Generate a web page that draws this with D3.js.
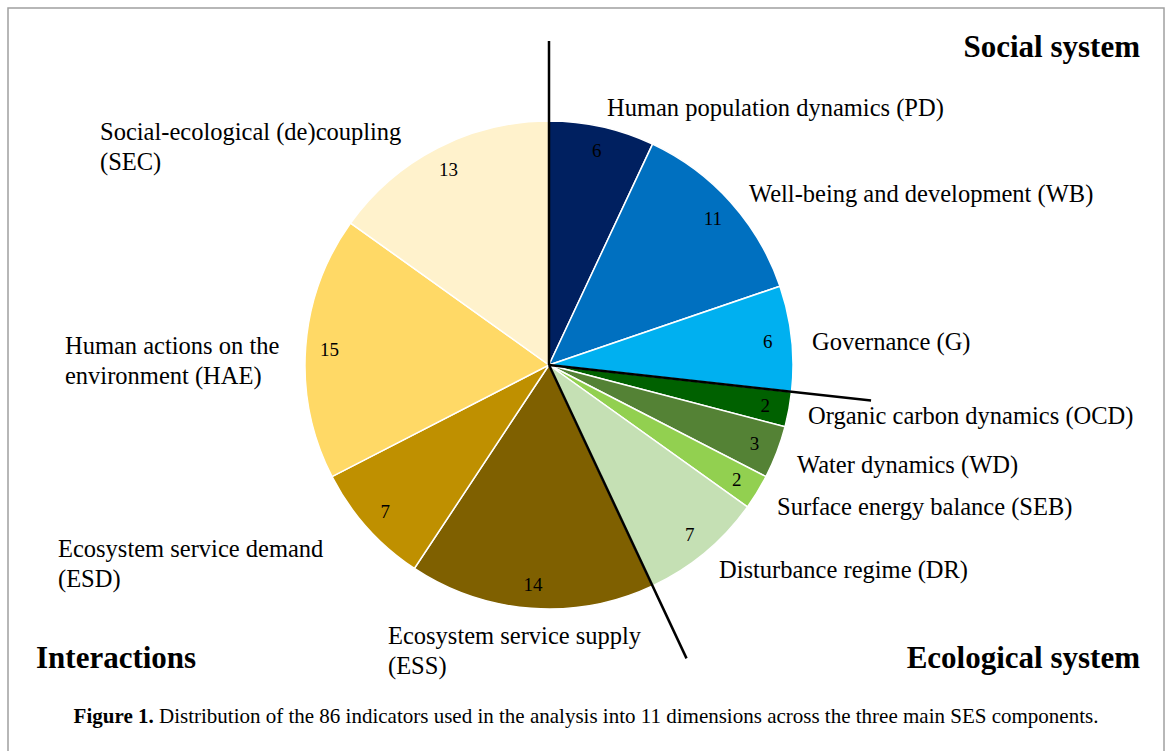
<!DOCTYPE html>
<html>
<head>
<meta charset="utf-8">
<script src="https://cdn.jsdelivr.net/npm/d3@7"></script>
<style>
  body { margin: 0; background: #fff; }
  text { font-family: "Liberation Serif", "Times New Roman", serif; }
</style>
</head>
<body>
<div id="chart"></div>
<script>
// dimensions, clockwise from 12 o'clock
const dimensions = [
  "Human population dynamics (PD)",
  "Well-being and development (WB)",
  "Governance (G)",
  "Organic carbon dynamics (OCD)",
  "Water dynamics (WD)",
  "Surface energy balance (SEB)",
  "Disturbance regime (DR)",
  "Ecosystem service supply (ESS)",
  "Ecosystem service demand (ESD)",
  "Human actions on the environment (HAE)",
  "Social-ecological (de)coupling (SEC)"
];
const indicatorCounts = [6, 11, 6, 2, 3, 2, 7, 14, 7, 15, 13];
const sliceColors = [
  "#002060", "#0070c0", "#00b0f0", "#006100", "#548235", "#92d050",
  "#c5e0b4", "#7f6000", "#bf9000", "#ffd966", "#fff2cc"
];
// components: index of the slice where each starts
const componentStarts = [0, 3, 7];

// label lines (wrapped) and where they sit
const labelLines = [
  ["Human population dynamics (PD)"],
  ["Well-being and development (WB)"],
  ["Governance (G)"],
  ["Organic carbon dynamics (OCD)"],
  ["Water dynamics (WD)"],
  ["Surface energy balance (SEB)"],
  ["Disturbance regime (DR)"],
  ["Ecosystem service supply", "(ESS)"],
  ["Ecosystem service demand", "(ESD)"],
  ["Human actions on the", "environment (HAE)"],
  ["Social-ecological (de)coupling", "(SEC)"]
];
const labelPos = [
  [607, 116], [749, 202], [812, 350], [808, 424], [797, 473], [777, 515],
  [719, 578], [388, 644], [58, 557], [65, 354], [100, 140]
];

const width = 1171, height = 751;
const cx = 549, cy = 365, radius = 244;

const svg = d3.select("#chart").append("svg")
  .attr("width", width)
  .attr("height", height);

// figure frame
svg.append("rect")
  .attr("x", 8).attr("y", 8)
  .attr("width", 1156).attr("height", 800)
  .attr("fill", "none")
  .attr("stroke", "#a0a0a0")
  .attr("stroke-width", 1.5);

const pie = d3.pie().sort(null).value(d => d);
const arcs = pie(indicatorCounts);

const arc = d3.arc().innerRadius(0).outerRadius(radius);
const labelArc = d3.arc().innerRadius(220).outerRadius(220);

const g = svg.append("g")
  .attr("transform", "translate(" + cx + "," + cy + ")");

g.selectAll(".slice")
  .data(arcs)
  .enter().append("path")
  .attr("class", "slice")
  .attr("d", arc)
  .attr("fill", (d, i) => sliceColors[i])
  .attr("stroke", "#fff")
  .attr("stroke-width", 1.5);

g.selectAll(".count")
  .data(arcs)
  .enter().append("text")
  .attr("class", "count")
  .attr("transform", d => "translate(" + labelArc.centroid(d) + ")")
  .attr("text-anchor", "middle")
  .attr("dy", "0.35em")
  .attr("font-size", 19)
  .attr("fill", "#000")
  .text(d => d.data);

// component dividers along slice boundaries
const lineLen = 324;
g.selectAll(".divider")
  .data(componentStarts)
  .enter().append("line")
  .attr("class", "divider")
  .attr("x1", 0).attr("y1", 0)
  .attr("x2", i => lineLen * Math.sin(arcs[i].startAngle))
  .attr("y2", i => -lineLen * Math.cos(arcs[i].startAngle))
  .attr("stroke", "#000")
  .attr("stroke-width", 2.5);

// outside labels
const labels = svg.selectAll(".dim-label")
  .data(dimensions)
  .enter().append("text")
  .attr("class", "dim-label")
  .attr("x", (d, i) => labelPos[i][0])
  .attr("y", (d, i) => labelPos[i][1])
  .attr("font-size", 24.5)
  .attr("fill", "#000");

labels.each(function(d, i) {
  const t = d3.select(this);
  labelLines[i].forEach(function(line, j) {
    t.append("tspan")
      .attr("x", labelPos[i][0])
      .attr("dy", j === 0 ? 0 : 30)
      .text(line);
  });
});

// component headers
svg.append("text")
  .attr("x", 1140).attr("y", 57)
  .attr("text-anchor", "end")
  .attr("font-size", 31).attr("font-weight", "bold")
  .text("Social system");
svg.append("text")
  .attr("x", 36).attr("y", 668)
  .attr("font-size", 31).attr("font-weight", "bold")
  .text("Interactions");
svg.append("text")
  .attr("x", 1140).attr("y", 668)
  .attr("text-anchor", "end")
  .attr("font-size", 31).attr("font-weight", "bold")
  .text("Ecological system");

// caption
const caption = svg.append("text")
  .attr("x", 586).attr("y", 723)
  .attr("text-anchor", "middle")
  .attr("font-size", 21);
caption.append("tspan").attr("font-weight", "bold").text("Figure 1.");
caption.append("tspan").text(" Distribution of the 86 indicators used in the analysis into 11 dimensions across the three main SES components.");
</script>
</body>
</html>
